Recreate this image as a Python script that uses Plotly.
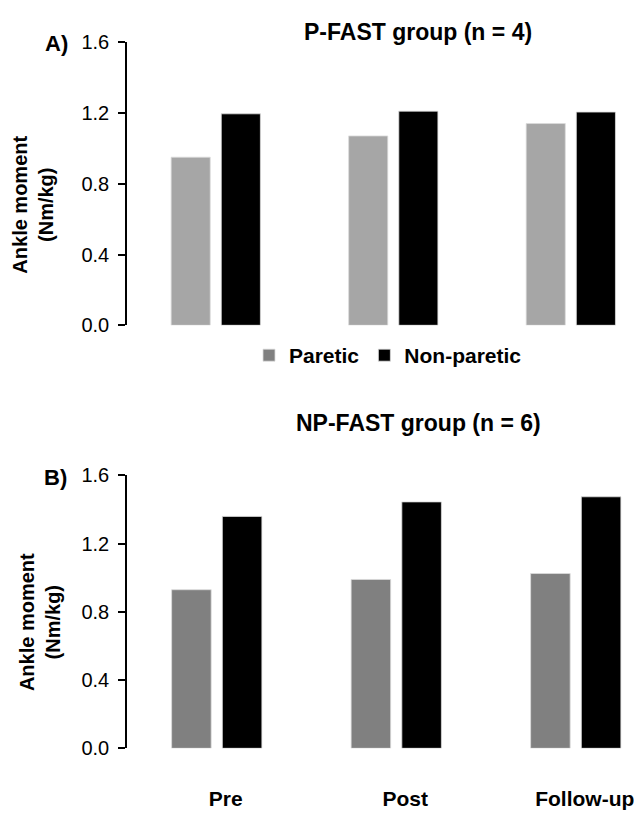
import plotly.graph_objects as go

categories = ["Pre", "Post", "Follow-up"]
pfast_paretic = [0.95, 1.07, 1.14]
pfast_nonparetic = [1.195, 1.21, 1.205]
npfast_paretic = [0.93, 0.99, 1.025]
npfast_nonparetic = [1.36, 1.445, 1.475]
y_ticks = [0.0, 0.4, 0.8, 1.2, 1.6]

W, H = 634, 818
FONT = "Liberation Sans, Arial, sans-serif"

def px(x):
    return x / W

def py(y):
    return 1 - y / H

edge = dict(color="#dcdcdc", width=0.8)
fig = go.Figure()
fig.add_trace(go.Bar(x=categories, y=pfast_paretic, name="Paretic", marker_color="#a6a6a6",
                     marker_line=edge, xaxis="x", yaxis="y", showlegend=False))
fig.add_trace(go.Bar(x=categories, y=pfast_nonparetic, name="Non-paretic", marker_color="#000000",
                     marker_line=edge, xaxis="x", yaxis="y", showlegend=False))
fig.add_trace(go.Bar(x=categories, y=npfast_paretic, name="Paretic", marker_color="#808080",
                     marker_line=edge, xaxis="x2", yaxis="y2"))
fig.add_trace(go.Bar(x=categories, y=npfast_nonparetic, name="Non-paretic", marker_color="#000000",
                     marker_line=edge, xaxis="x2", yaxis="y2"))

yaxis_common = dict(range=[0, 1.6], tickvals=y_ticks, ticktext=[f"{v:.1f}" for v in y_ticks],
                    showline=True, linecolor="black", linewidth=1.5, ticks="outside", ticklen=7,
                    tickcolor="black", tickwidth=1.5, showgrid=False, zeroline=False,
                    ticklabelstandoff=5,
                    tickfont=dict(family=FONT, size=20, color="black"))

fig.update_layout(
    width=W, height=H,
    margin=dict(l=0, r=0, t=0, b=0),
    paper_bgcolor="white", plot_bgcolor="white",
    barmode="group", bargap=0.435, bargroupgap=0.22,
    font=dict(family=FONT, color="black"),
    xaxis=dict(domain=[px(127), 1.0], anchor="y", range=[-0.5, 2.356], showticklabels=False,
               showline=False, showgrid=False, zeroline=False, ticks=""),
    yaxis=dict(domain=[py(323), py(32)], anchor="x", **yaxis_common),
    xaxis2=dict(domain=[px(127), 1.0], anchor="y2", range=[-0.5, 2.3245], showline=False,
                showgrid=False, zeroline=False, ticks="", ticklabelstandoff=36, ticklabelshift=9,
                tickfont=dict(family=FONT, size=21, color="black", weight="bold")),
    yaxis2=dict(domain=[py(757.7), py(477.3)], anchor="x2", **yaxis_common),
    legend=dict(orientation="h", x=px(249), y=py(333), xanchor="left", yanchor="top",
                font=dict(family=FONT, size=21, color="black", weight="bold"),
                itemwidth=30, tracegroupgap=0, bgcolor="rgba(0,0,0,0)"),
    showlegend=True,
)

ann = [
    dict(text="<b>P-FAST group (n = 4)</b>", x=px(417.5), y=py(22), size=23),
    dict(text="<b>NP-FAST group (n = 6)</b>", x=px(418), y=py(423), size=23),
    dict(text="<b>A)</b>", x=px(56), y=py(33), size=22),
    dict(text="<b>B)</b>", x=px(55), y=py(479), size=22),
]
for a in ann:
    fig.add_annotation(text=a["text"], x=a["x"], y=a["y"], xref="paper", yref="paper",
                       xanchor="center", yanchor="middle", showarrow=False,
                       font=dict(family=FONT, size=a["size"], color="black"))

for (xc, yc) in [(33, 199), (40, 628)]:
    fig.add_annotation(text="<b>Ankle moment<br>(Nm/kg)</b>", x=px(xc), y=py(yc),
                       xref="paper", yref="paper", xanchor="center", yanchor="middle",
                       textangle=-90, showarrow=False,
                       font=dict(family=FONT, size=20, color="black"))

fig.write_html("out.html")
